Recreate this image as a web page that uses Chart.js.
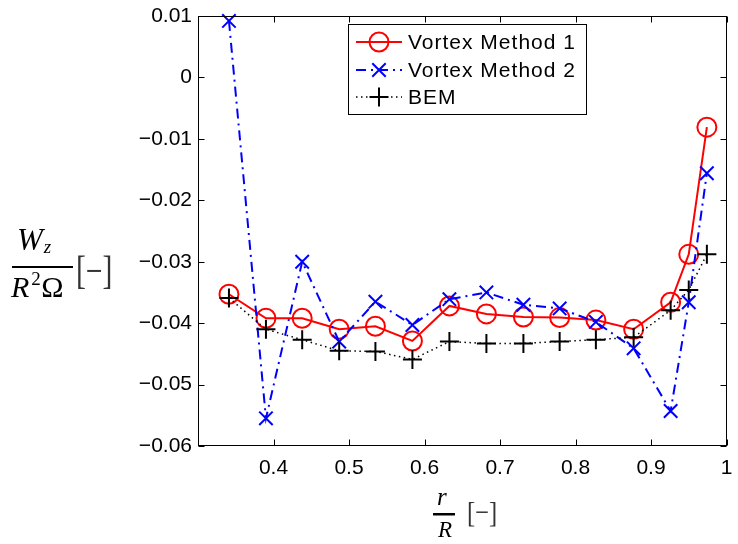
<!DOCTYPE html>
<html>
<head>
<meta charset="utf-8">
<script src="https://cdn.jsdelivr.net/npm/chart.js@4.4.1/dist/chart.umd.min.js"></script>
<style>
  html, body { margin: 0; padding: 0; background: #fff; }
  canvas { display: block; }
</style>
</head>
<body>
<canvas id="wzChart" width="738" height="544"></canvas>
<script>
// r/R positions and W_z/(R^2 Omega) values
const radius = [0.341, 0.390, 0.438, 0.487, 0.535, 0.584, 0.633, 0.682, 0.731, 0.779, 0.827, 0.877, 0.926, 0.950, 0.974];
const vortexMethod1 = [-0.0353, -0.0392, -0.0392, -0.0410, -0.0405, -0.0429, -0.0372, -0.0385, -0.0390, -0.0391, -0.0395, -0.0410, -0.0366, -0.0288, -0.0081];
const vortexMethod2 = [0.0092, -0.0555, -0.0300, -0.0430, -0.0365, -0.0403, -0.0361, -0.0350, -0.0370, -0.0376, -0.0398, -0.0441, -0.0543, -0.0366, -0.0156];
const bem = [-0.0359, -0.0410, -0.0427, -0.0445, -0.0446, -0.0459, -0.0430, -0.0433, -0.0433, -0.0430, -0.0427, -0.0423, -0.0379, -0.0346, -0.0288];
const seriesNames = ['Vortex Method 1', 'Vortex Method 2', 'BEM'];
const xTicks = [0.4, 0.5, 0.6, 0.7, 0.8, 0.9, 1];
const yTicks = [0.01, 0, -0.01, -0.02, -0.03, -0.04, -0.05, -0.06];

const SANS = '"Liberation Sans", Arial, sans-serif';
const SERIF = '"Liberation Serif", "DejaVu Serif", serif';

const toPoints = ys => ys.map((y, i) => ({ x: radius[i], y: y }));

function fmtTick(v) {
    if (Math.abs(v) < 1e-9) return '0';
    return String(parseFloat(v.toFixed(3))).replace('-', '\u2212');
}

// matlab style box with inward ticks on all four sides
const axesBox = {
    id: 'axesBox',
    afterDraw(chart) {
        const { ctx, chartArea: a, scales: { x, y } } = chart;
        const L = Math.round(a.left) + 0.5, R = Math.round(a.right) - 0.5;
        const T = Math.round(a.top) + 0.5, B = Math.round(a.bottom) - 0.5;
        ctx.save();
        ctx.strokeStyle = '#000';
        ctx.lineWidth = 1;
        ctx.strokeRect(L, T, R - L, B - T);
        ctx.beginPath();
        xTicks.forEach(v => {
            const px = Math.round(x.getPixelForValue(v)) + 0.5;
            ctx.moveTo(px, B); ctx.lineTo(px, B - 6);
            ctx.moveTo(px, T); ctx.lineTo(px, T + 6);
        });
        yTicks.forEach(v => {
            const py = Math.round(y.getPixelForValue(v)) + 0.5;
            ctx.moveTo(L, py); ctx.lineTo(L + 6, py);
            ctx.moveTo(R, py); ctx.lineTo(R - 6, py);
        });
        ctx.stroke();
        ctx.restore();
    }
};

function drawMarker(ctx, style, cx, cy, r, color) {
    ctx.strokeStyle = color;
    ctx.lineWidth = 2;
    ctx.setLineDash([]);
    ctx.beginPath();
    if (style === 'circle') {
        ctx.arc(cx, cy, r, 0, Math.PI * 2);
    } else if (style === 'crossRot') {
        const d = r * Math.SQRT1_2;
        ctx.moveTo(cx - d, cy - d); ctx.lineTo(cx + d, cy + d);
        ctx.moveTo(cx - d, cy + d); ctx.lineTo(cx + d, cy - d);
    } else {
        ctx.moveTo(cx - r, cy); ctx.lineTo(cx + r, cy);
        ctx.moveTo(cx, cy - r); ctx.lineTo(cx, cy + r);
    }
    ctx.stroke();
}

const boxLegend = {
    id: 'boxLegend',
    afterDraw(chart) {
        const ctx = chart.ctx;
        const bx = 348, by = 24, bw = 238, bh = 90;
        const rows = [42, 70, 97];
        ctx.save();
        ctx.fillStyle = '#fff';
        ctx.fillRect(bx, by, bw, bh);
        ctx.strokeStyle = '#000';
        ctx.lineWidth = 1;
        ctx.strokeRect(bx + 0.5, by + 0.5, bw, bh);
        chart.data.datasets.forEach((ds, i) => {
            const yy = rows[i];
            ctx.strokeStyle = ds.borderColor;
            ctx.lineWidth = ds.borderWidth;
            ctx.setLineDash(ds.borderDash || []);
            ctx.beginPath();
            ctx.moveTo(356, yy); ctx.lineTo(402, yy);
            ctx.stroke();
            drawMarker(ctx, ds.pointStyle, 379, yy, ds.pointRadius, ds.pointBorderColor);
            ctx.fillStyle = '#000';
            ctx.font = '21px ' + SANS;
            ctx.letterSpacing = '1px';
            ctx.textBaseline = 'middle';
            ctx.textAlign = 'left';
            ctx.fillText(ds.label, 408, yy + 1);
        });
        ctx.restore();
    }
};

const axisTitles = {
    id: 'axisTitles',
    afterDraw(chart) {
        const ctx = chart.ctx;
        ctx.save();
        ctx.fillStyle = '#000';
        ctx.textAlign = 'left';
        ctx.textBaseline = 'alphabetic';
        // y label: W_z / (R^2 Omega) [-]
        ctx.font = 'italic 31px ' + SERIF;
        ctx.fillText('W', 17, 250);
        const wEnd = 17 + ctx.measureText('W').width;
        ctx.font = 'italic 19px ' + SERIF;
        ctx.fillText('z', wEnd + 1, 253);
        ctx.fillRect(12, 266, 61, 2);
        ctx.font = 'italic 30px ' + SERIF;
        ctx.fillText('R', 11, 297);
        const rEnd = 11 + ctx.measureText('R').width;
        ctx.font = '19px ' + SERIF;
        ctx.fillText('2', rEnd + 2, 285);
        ctx.font = '30px ' + SERIF;
        ctx.fillText('\u03A9', rEnd + 12, 297);
        ctx.save();
        ctx.fillStyle = '#333';
        ctx.translate(76, 284);
        ctx.scale(0.74, 1);
        ctx.font = '40px ' + SERIF;
        ctx.fillText('[\u2212]', 0, 0);
        ctx.restore();
        // x label: r / R [-]
        ctx.font = 'italic 25px ' + SERIF;
        ctx.fillText('r', 437, 505);
        ctx.fillRect(433, 513, 22, 2.5);
        ctx.font = 'italic 23px ' + SERIF;
        ctx.fillText('R', 438, 537);
        ctx.save();
        ctx.fillStyle = '#333';
        ctx.translate(467, 522);
        ctx.scale(0.82, 1);
        ctx.font = '30px ' + SERIF;
        ctx.fillText('[\u2212]', 0, 0);
        ctx.restore();
        ctx.restore();
    }
};

const ctx = document.getElementById('wzChart');
new Chart(ctx, {
    type: 'line',
    data: {
        datasets: [{
            label: seriesNames[0],
            data: toPoints(vortexMethod1),
            borderColor: '#ff0000',
            borderWidth: 2,
            pointStyle: 'circle',
            pointRadius: 9.5,
            pointBorderWidth: 2,
            pointBorderColor: '#ff0000',
            pointBackgroundColor: 'rgba(0,0,0,0)',
            order: 2
        }, {
            label: seriesNames[1],
            data: toPoints(vortexMethod2),
            borderColor: '#0000ff',
            borderWidth: 2,
            borderDash: [10, 5, 2, 5],
            pointStyle: 'crossRot',
            pointRadius: 9.5,
            pointBorderWidth: 2,
            pointBorderColor: '#0000ff',
            order: 1
        }, {
            label: seriesNames[2],
            data: toPoints(bem),
            borderColor: '#000000',
            borderWidth: 1.5,
            borderDash: [1.5, 3.5],
            pointStyle: 'cross',
            pointRadius: 9.5,
            pointBorderWidth: 2,
            pointBorderColor: '#000000',
            order: 0
        }]
    },
    options: {
        responsive: false,
        animation: false,
        clip: 14,
        layout: { padding: { left: 0, top: 16, right: 3, bottom: 0 } },
        elements: { line: { tension: 0 } },
        scales: {
            x: {
                type: 'linear',
                min: 0.3,
                max: 1.0,
                afterBuildTicks: s => { s.ticks = xTicks.map(v => ({ value: v })); },
                afterFit: s => { s.height = 98; s.paddingLeft = 0; s.paddingRight = 0; },
                grid: { display: false },
                border: { display: false },
                ticks: {
                    color: '#000',
                    font: { family: SANS, size: 21 },
                    padding: 2,
                    maxRotation: 0,
                    autoSkip: false,
                    callback: v => fmtTick(v)
                }
            },
            y: {
                type: 'linear',
                min: -0.06,
                max: 0.01,
                afterBuildTicks: s => { s.ticks = yTicks.map(v => ({ value: v })); },
                afterFit: s => { s.width = 198; s.paddingTop = 0; s.paddingBottom = 0; },
                grid: { display: false, drawTicks: false },
                border: { display: false },
                ticks: {
                    color: '#000',
                    font: { family: SANS, size: 21 },
                    padding: 6,
                    autoSkip: false,
                    callback: v => fmtTick(v)
                }
            }
        },
        plugins: {
            legend: { display: false },
            tooltip: { enabled: false }
        }
    },
    plugins: [axesBox, boxLegend, axisTitles]
});
</script>
</body>
</html>
